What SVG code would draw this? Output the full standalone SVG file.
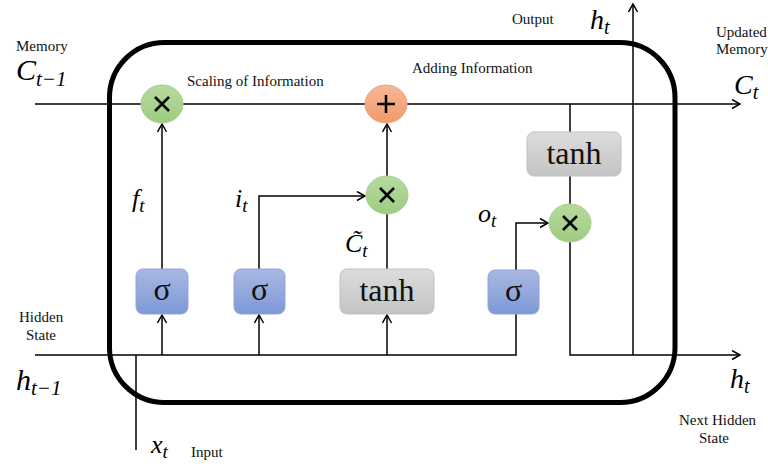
<svg xmlns="http://www.w3.org/2000/svg" width="768" height="464" viewBox="0 0 768 464">
<defs>
<linearGradient id="gGreen" x1="0" y1="0" x2="0" y2="1"><stop offset="0" stop-color="#b7da9f"/><stop offset="1" stop-color="#9dcc80"/></linearGradient>
<linearGradient id="gOrange" x1="0" y1="0" x2="0" y2="1"><stop offset="0" stop-color="#f7b896"/><stop offset="1" stop-color="#f09a6b"/></linearGradient>
<linearGradient id="gBlue" x1="0" y1="0" x2="0" y2="1"><stop offset="0" stop-color="#a9b8e2"/><stop offset="1" stop-color="#7d98d6"/></linearGradient>
<linearGradient id="gGray" x1="0" y1="0" x2="0" y2="1"><stop offset="0" stop-color="#dcdcdc"/><stop offset="1" stop-color="#c4c4c4"/></linearGradient>
<marker id="arr" markerUnits="userSpaceOnUse" markerWidth="12" markerHeight="12" refX="9" refY="5" orient="auto"><path d="M1,0.5 L9,5 L1,9.5" fill="none" stroke="#000" stroke-width="1.5"/></marker>
</defs>
<style>
.ln{fill:none;stroke:#000;stroke-width:1.5}
.lbl{font-family:"Liberation Serif","Times New Roman",serif;font-size:15px;fill:#111}
.m{font-family:"Liberation Serif","Times New Roman",serif;font-style:italic;fill:#000}
.op{fill:none;stroke:#000;stroke-width:2.5;stroke-linecap:butt}
.green{fill:url(#gGreen);stroke:#a5cf8a;stroke-width:1}
.orange{fill:url(#gOrange);stroke:#f0a47c;stroke-width:1}
.blue{fill:url(#gBlue);stroke:#8fa6dc;stroke-width:1}
.gray{fill:url(#gGray);stroke:#c0c0c0;stroke-width:1}
.bt{font-family:"Liberation Serif","Times New Roman",serif;font-size:32px;fill:#111;text-anchor:middle}
</style>
<rect id="cell" x="109.5" y="42.5" width="565.5" height="360" rx="55" ry="55" fill="none" stroke="#000" stroke-width="5"/>
<g id="connectors">
<path class="ln" d="M35,104 H740" marker-end="url(#arr)"/>
<path class="ln" d="M35,355 H516 V314"/>
<path class="ln" d="M162,355 V315" marker-end="url(#arr)"/>
<path class="ln" d="M259,355 V315" marker-end="url(#arr)"/>
<path class="ln" d="M387,355 V315" marker-end="url(#arr)"/>
<path class="ln" d="M136,450 V355"/>
<path class="ln" d="M162,269 V124" marker-end="url(#arr)"/>
<path class="ln" d="M259,269 V196 H365" marker-end="url(#arr)"/>
<path class="ln" d="M387,269 V214"/>
<path class="ln" d="M387,177 V124" marker-end="url(#arr)"/>
<path class="ln" d="M570,104 V132"/>
<path class="ln" d="M570,176 V204"/>
<path class="ln" d="M516,270 V223 H548" marker-end="url(#arr)"/>
<path class="ln" d="M570,242 V355 H740" marker-end="url(#arr)"/>
<path class="ln" d="M633,355 V4" marker-end="url(#arr)"/>
</g>
<g id="forget-mul"><ellipse class="green" cx="162" cy="104" rx="21" ry="19"/><path class="op" d="M155,97 L169,111 M169,97 L155,111"/></g>
<g id="add"><ellipse class="orange" cx="386" cy="104" rx="21" ry="19"/><path class="op" d="M386,95 V113 M377,104 H395"/></g>
<g id="input-mul"><ellipse class="green" cx="387" cy="195" rx="21" ry="19"/><path class="op" d="M380,188 L394,202 M394,188 L380,202"/></g>
<g id="output-mul"><ellipse class="green" cx="570" cy="223" rx="21" ry="19"/><path class="op" d="M563,216 L577,230 M577,216 L563,230"/></g>
<g id="sigma-f"><rect class="blue" x="136" y="269" width="52" height="45" rx="7"/><text class="bt" x="162" y="300">σ</text></g>
<g id="sigma-i"><rect class="blue" x="234" y="269" width="51" height="45" rx="7"/><text class="bt" x="259.5" y="300">σ</text></g>
<g id="tanh-c"><rect class="gray" x="340" y="269" width="94" height="45" rx="7"/><text class="bt" x="387" y="301">tanh</text></g>
<g id="sigma-o"><rect class="blue" x="488" y="270" width="51" height="44" rx="7"/><text class="bt" x="513.5" y="301">σ</text></g>
<g id="tanh-h"><rect class="gray" x="527" y="132" width="94" height="44" rx="7"/><text class="bt" x="574" y="164">tanh</text></g>
<g id="labels">
<text class="lbl" x="16" y="51">Memory</text>
<text class="m" x="16" y="80" font-size="30">C<tspan font-size="21" dy="6">t−1</tspan></text>
<text class="lbl" x="187" y="86">Scaling of Information</text>
<text class="lbl" x="412" y="73">Adding Information</text>
<text class="lbl" x="512" y="24">Output</text>
<text class="m" x="590" y="29" font-size="28">h<tspan font-size="20" dy="5">t</tspan></text>
<text class="lbl" x="716" y="37">Updated</text>
<text class="lbl" x="716" y="54">Memory</text>
<text class="m" x="734" y="94" font-size="28">C<tspan font-size="20" dy="5">t</tspan></text>
<text class="m" x="132" y="207" font-size="26">f<tspan font-size="19" dy="5">t</tspan></text>
<text class="m" x="235" y="207" font-size="26">i<tspan font-size="19" dy="5">t</tspan></text>
<text class="m" x="345" y="252" font-size="26">C&#x303;<tspan font-size="19" dy="5">t</tspan></text>
<text class="m" x="478" y="222" font-size="26">o<tspan font-size="19" dy="5">t</tspan></text>
<text class="lbl" x="19" y="322">Hidden</text>
<text class="lbl" x="26" y="340">State</text>
<text class="m" x="16" y="390" font-size="30">h<tspan font-size="21" dy="5">t−1</tspan></text>
<text class="m" x="730" y="388" font-size="28">h<tspan font-size="20" dy="5">t</tspan></text>
<text class="lbl" x="679" y="425">Next Hidden</text>
<text class="lbl" x="699" y="443">State</text>
<text class="m" x="151" y="453" font-size="26">x<tspan font-size="19" dy="5">t</tspan></text>
<text class="lbl" x="191" y="457">Input</text>
</g>
</svg>
